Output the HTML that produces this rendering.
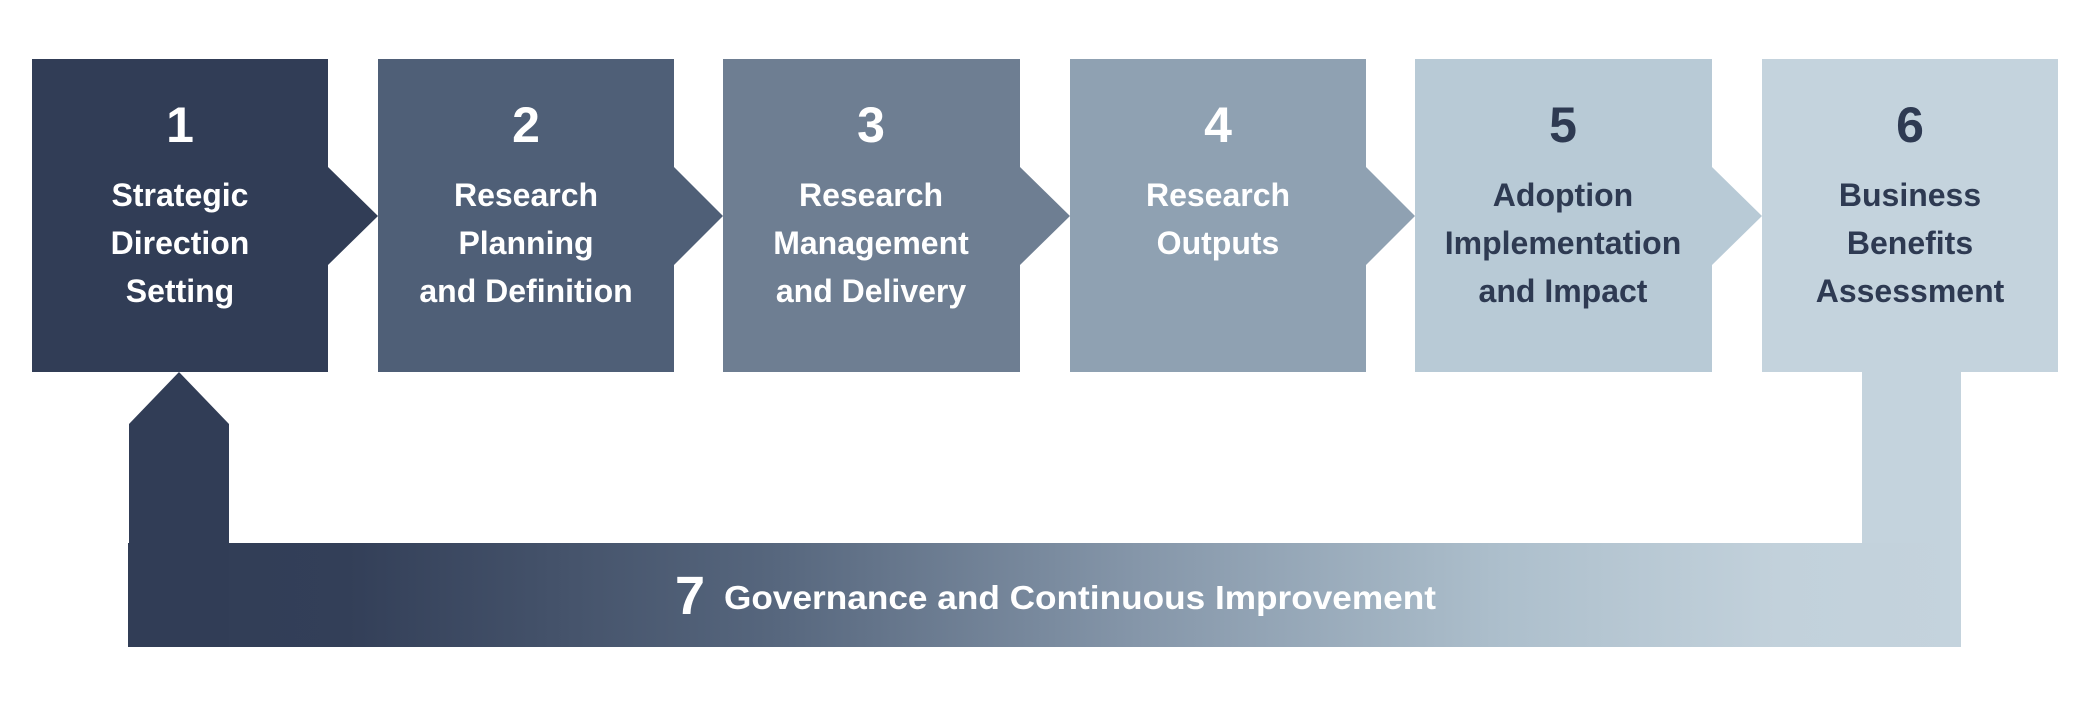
<!DOCTYPE html>
<html><head><meta charset="utf-8"><style>
html,body{margin:0;padding:0;background:#fff;}
svg{display:block;}
text{font-family:"Liberation Sans",sans-serif;font-weight:bold;text-anchor:middle;}
</style></head><body>
<svg width="2092" height="702" viewBox="0 0 2092 702" xmlns="http://www.w3.org/2000/svg">
<defs>
<linearGradient id="g" x1="128" y1="0" x2="1961" y2="0" gradientUnits="userSpaceOnUse">
<stop offset="0" stop-color="#313d56"/>
<stop offset="0.12" stop-color="#333f58"/>
<stop offset="0.35" stop-color="#56667d"/>
<stop offset="0.55" stop-color="#8596a9"/>
<stop offset="0.75" stop-color="#adbfcc"/>
<stop offset="0.9" stop-color="#c2d1db"/>
<stop offset="1" stop-color="#c4d3dd"/>
</linearGradient>
</defs>
<rect x="1862" y="372" width="99" height="275" fill="#c4d3dd"/>
<rect x="128" y="543" width="1833" height="104" fill="url(#g)"/>
<polygon points="129,647 129,424 179,372 229,424 229,647" fill="#313d56"/>
<polygon points="32,59 328,59 328,167 378,216 328,265 328,372 32,372" fill="#313d56"/>
<polygon points="378,59 674,59 674,167 723,216 674,265 674,372 378,372" fill="#4f5f77"/>
<polygon points="723,59 1020,59 1020,167 1070,216 1020,265 1020,372 723,372" fill="#6e7e92"/>
<polygon points="1070,59 1366,59 1366,167 1415,216 1366,265 1366,372 1070,372" fill="#8fa1b2"/>
<polygon points="1415,59 1712,59 1712,167 1762,216 1712,265 1712,372 1415,372" fill="#b8cad6"/>
<rect x="1762" y="59" width="296" height="313" fill="#c4d3dd"/>
<g fill="#fff">
<text x="180" y="142" font-size="50">1</text>
<text x="180" y="206" font-size="32">Strategic</text>
<text x="180" y="254" font-size="32">Direction</text>
<text x="180" y="302" font-size="32">Setting</text>
<text x="526" y="142" font-size="50">2</text>
<text x="526" y="206" font-size="32">Research</text>
<text x="526" y="254" font-size="32">Planning</text>
<text x="526" y="302" font-size="32">and Definition</text>
<text x="871" y="142" font-size="50">3</text>
<text x="871" y="206" font-size="32">Research</text>
<text x="871" y="254" font-size="32">Management</text>
<text x="871" y="302" font-size="32">and Delivery</text>
<text x="1218" y="142" font-size="50">4</text>
<text x="1218" y="206" font-size="32">Research</text>
<text x="1218" y="254" font-size="32">Outputs</text>
</g>
<g fill="#2e3a52">
<text x="1563" y="142" font-size="50">5</text>
<text x="1563" y="206" font-size="32">Adoption</text>
<text x="1563" y="254" font-size="32">Implementation</text>
<text x="1563" y="302" font-size="32">and Impact</text>
<text x="1910" y="142" font-size="50">6</text>
<text x="1910" y="206" font-size="32">Business</text>
<text x="1910" y="254" font-size="32">Benefits</text>
<text x="1910" y="302" font-size="32">Assessment</text>
</g>
<text x="690" y="614" font-size="54" fill="#fff">7</text>
<text x="724" y="609" font-size="33" fill="#fff" style="text-anchor:start" textLength="712" lengthAdjust="spacingAndGlyphs">Governance and Continuous Improvement</text>
</svg>
</body></html>
